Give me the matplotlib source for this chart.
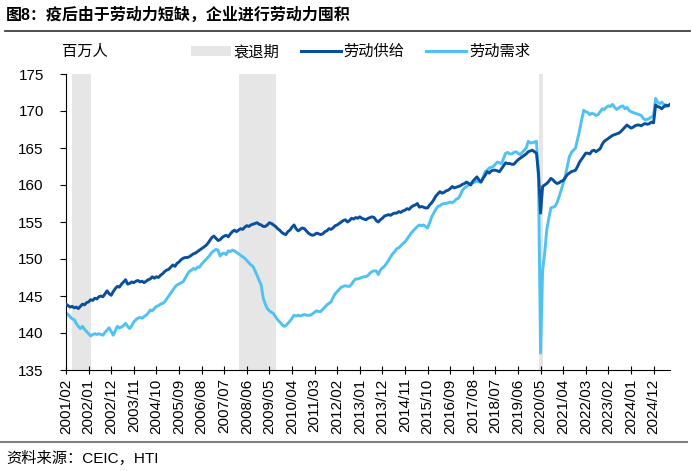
import numpy as np
import pandas as pd
from matplotlib import pyplot as plt
from matplotlib.patches import Patch
from matplotlib.lines import Line2D

plt.rcParams['font.family'] = ['Liberation Sans', 'Noto Sans CJK SC', 'DejaVu Sans']

start_month = '2001-02'

# labour supply (dark), millions, monthly from 2001/02
supply = [
    143.9, 143.7, 143.5, 143.6, 143.4, 143.5, 143.3, 143.6, 143.9, 143.8, 144.1,
    144.2, 144.5, 144.4, 144.7, 144.6, 144.9, 145.0, 144.9, 145.3, 145.7, 145.3, 145.1,
    145.6, 146.0, 146.3, 146.2, 146.6, 146.9, 147.2, 146.6, 146.7, 146.9, 146.8, 147.0,
    147.1, 146.9, 147.0, 146.8, 147.0, 147.2, 147.3, 147.6, 147.4, 147.6, 147.5, 147.8,
    148.0, 148.3, 148.5, 148.6, 148.9, 149.2, 149.0, 149.4, 149.6, 149.9, 150.1, 150.2,
    150.2, 150.3, 150.5, 150.7, 150.8, 151.0, 151.2, 151.4, 151.6, 151.8, 152.1, 152.5,
    152.9, 153.1, 152.8, 152.5, 152.6, 152.9, 153.1, 153.2, 153.0, 153.4, 153.7, 153.9,
    153.7, 153.9, 154.1, 154.0, 154.3, 154.5, 154.4, 154.6, 154.7, 154.8, 154.9, 154.7,
    154.6, 154.4, 154.4, 154.6, 154.9, 154.8, 154.6, 154.4, 154.1, 153.9, 153.6, 153.4,
    153.3, 153.7, 153.9, 154.3, 154.6, 154.1, 153.8, 154.0, 154.2, 154.1, 153.8, 153.5,
    153.3, 153.2, 153.3, 153.5, 153.4, 153.3, 153.4, 153.7, 153.8, 154.1, 154.0, 154.2,
    154.5, 154.6, 154.8, 155.0, 155.2, 155.3, 155.0, 155.2, 155.5, 155.4, 155.6, 155.5,
    155.7, 155.5, 155.4, 155.3, 155.5, 155.6, 155.7, 155.6, 155.2, 155.0, 155.3, 155.5,
    155.8, 155.9, 156.0, 155.9, 156.1, 156.2, 156.2, 156.4, 156.3, 156.5, 156.6, 156.8,
    156.7, 157.0, 157.2, 157.3, 157.5, 157.0, 157.1, 157.0, 156.9, 156.9, 157.3, 157.6,
    158.0, 158.5, 158.8, 159.1, 158.9, 159.0, 159.2, 159.3, 159.5, 159.8, 159.6, 159.7,
    159.8, 159.9, 160.1, 160.2, 160.4, 160.2, 160.0, 160.5, 160.8, 161.1, 160.7, 160.4,
    160.9, 161.3, 161.8, 161.6, 161.9, 162.0, 162.0, 161.9, 161.8, 162.2, 162.6, 163.0,
    162.9, 162.9, 162.8, 162.8, 163.1, 163.4, 163.6, 163.8, 164.0, 164.2, 164.5, 164.6,
    164.7, 164.5, 164.3, 161.6, 156.2, 159.8, 160.0, 160.2, 160.5, 160.9, 160.7, 160.4,
    160.2, 160.3, 160.5, 160.6, 161.0, 161.4, 161.6, 161.8, 161.9, 162.0, 162.5, 163.1,
    163.5, 163.9, 164.3, 164.3, 164.2, 164.6, 164.7, 164.5, 164.7, 164.9, 165.5, 165.9,
    166.1, 166.3, 166.5, 166.7, 166.8, 166.9, 167.0, 167.2, 167.5, 167.8, 168.1, 167.9,
    167.7, 167.8, 168.0, 168.1, 168.1, 168.0, 168.2, 168.3, 168.2, 168.3, 168.5, 168.4,
    170.8, 170.6, 170.5, 170.3, 170.6, 170.8, 170.7, 170.9,
]

# labour demand (light), millions
demand = [
    142.7, 142.5, 142.2, 141.9, 141.8, 141.3, 140.9, 140.6, 140.9, 140.5, 140.2,
    139.9, 139.6, 139.8, 139.9, 139.8, 139.9, 139.8, 139.7, 140.1, 140.4, 140.7, 140.2,
    139.7, 140.3, 140.9, 140.7, 140.8, 141.0, 141.3, 140.9, 140.6, 141.0, 141.5, 141.8,
    142.0, 142.1, 142.0, 142.2, 142.4, 142.7, 143.1, 143.0, 143.3, 143.6, 143.7, 143.9,
    144.0, 144.2, 144.6, 145.0, 145.4, 145.8, 146.2, 146.5, 146.6, 146.8, 146.9, 147.4,
    147.9, 148.3, 148.5, 148.7, 148.6, 148.9, 148.9, 149.3, 149.6, 149.9, 150.2, 150.5,
    150.9, 151.1, 151.3, 151.2, 150.4, 150.7, 150.8, 150.6, 151.1, 151.0, 151.2, 151.1,
    150.9, 150.7, 150.5, 150.3, 150.1, 149.8, 149.5, 149.2, 149.0, 148.4, 147.8, 147.1,
    146.5, 144.7, 143.9, 143.3, 143.0, 142.8, 142.6, 142.2, 141.8, 141.5, 141.2, 140.9,
    141.0, 141.3, 141.6, 142.0, 142.4, 142.3, 142.4, 142.3, 142.4, 142.5, 142.4, 142.4,
    142.4, 142.6, 142.8, 143.0, 142.9, 142.9, 143.2, 143.5, 143.8, 144.0, 144.2, 144.8,
    145.3, 145.6, 145.9, 146.2, 146.3, 146.4, 146.3, 146.3, 146.6, 147.0, 147.3, 147.3,
    147.4, 147.5, 147.6, 147.6, 147.8, 148.1, 148.3, 148.4, 148.4, 147.9, 148.5, 148.8,
    149.0, 149.4, 149.8, 150.3, 150.7, 151.0, 151.4, 151.5, 151.8, 152.1, 152.3, 152.7,
    153.1, 153.5, 153.8, 154.1, 154.4, 154.6, 154.5, 154.6, 154.4, 154.2, 154.9, 155.7,
    156.2, 156.7, 157.1, 157.2, 157.4, 157.5, 157.5, 157.6, 157.7, 157.6, 157.8, 158.1,
    158.2, 158.7, 159.3, 159.6, 159.8, 160.0, 160.2, 160.3, 160.4, 160.5, 160.4, 160.4,
    161.0, 161.8, 162.0, 162.3, 162.4, 162.5, 162.8, 163.1, 163.0, 162.9, 163.6, 164.3,
    164.4, 164.2, 164.2, 164.4, 164.5, 164.3, 164.1, 164.4, 164.7, 165.0, 165.9, 165.7,
    165.7, 165.8, 165.9, 160.7, 137.3, 148.5, 150.8, 153.9, 155.5, 156.9, 157.0, 157.1,
    157.6, 158.4, 159.3, 160.2, 161.1, 162.5, 163.8, 164.4, 164.7, 165.0, 166.2, 167.4,
    168.8, 170.1, 169.9, 169.8, 169.5, 169.7, 169.6, 169.4, 169.5, 169.9, 170.3, 170.2,
    170.5, 170.7, 170.6, 170.9, 170.5, 170.2, 170.4, 170.6, 170.7, 170.3, 170.5, 170.1,
    169.9, 169.8, 169.7, 169.6, 169.5, 169.4, 169.0, 168.8, 168.9, 169.0, 169.2, 169.4,
    171.7, 171.2, 171.0, 171.2, 170.9, 170.6, 170.7, 170.8,
]

# recession shading (as drawn in the source chart)
rec_start = ['2001-05', '2008-02', '2020-04']
rec_end = ['2002-02', '2009-08', '2020-06']

months = pd.period_range(start_month, periods=len(supply), freq='M')
x = np.arange(len(months))
labels = [p.strftime('%Y/%m') for p in months]

fig = plt.figure(figsize=(6.92, 4.71), dpi=100)
ax = fig.add_axes([66 / 692, 1 - 370 / 471, (670 - 66) / 692, (370 - 74) / 471])

p0 = pd.Period(start_month, freq='M')
for s, e in zip(rec_start, rec_end):
    a = (pd.Period(s, freq='M') - p0).n
    b = (pd.Period(e, freq='M') - p0).n
    ax.axvspan(a, b, color='#e6e6e6', lw=0, zorder=0)

dark = '#0a4f9c'
light = '#4fc2f2'
ax.plot(x, demand, color=light, lw=2.1, zorder=2)
ax.plot(x, supply, color=dark, lw=2.1, zorder=3)

ax.set_xlim(0, len(x) - 1)
ax.set_ylim(135, 175)
ax.set_yticks(np.arange(135, 176, 5))
tick_pos = x[::11]
ax.set_xticks(tick_pos)
ax.set_xticklabels([labels[i] for i in tick_pos], rotation=90, fontsize=11)
ax.tick_params(axis='y', labelsize=11, direction='out', length=4, pad=12)
ax.tick_params(axis='x', direction='inout', length=6, pad=3)
for sp in ['top', 'right']:
    ax.spines[sp].set_visible(False)

# title and rules
fig.text(6 / 692, 1 - 15 / 471, '图8：疫后由于劳动力短缺，企业进行劳动力囤积',
         fontsize=11.5, fontweight='bold', va='center', ha='left')
fig.add_artist(Line2D([5 / 692, 690 / 692], [1 - 31 / 471, 1 - 31 / 471], color='#404040', lw=1.3))
fig.add_artist(Line2D([0, 687 / 692], [1 - 442 / 471, 1 - 442 / 471], color='#808080', lw=1.5))
fig.text(6 / 692, 1 - 458 / 471, '资料来源：CEIC，HTI', fontsize=11, va='center', ha='left')

fig.text(62 / 692, 1 - 52 / 471, '百万人', fontsize=11, va='center', ha='left')
handles = [Patch(color='#e6e6e6', lw=0),
           Line2D([], [], color=dark, lw=2.2),
           Line2D([], [], color=light, lw=2.2)]
fig.legend(handles, ['衰退期', '劳动供给', '劳动需求'], loc='center left',
           bbox_to_anchor=(191 / 692, 1 - 52 / 471), ncol=3, frameon=False,
           fontsize=11, handlelength=2.6, handleheight=0.6, handletextpad=0.2,
           columnspacing=1.4, borderpad=0, borderaxespad=0)

fig.savefig('out.png', dpi=100)
